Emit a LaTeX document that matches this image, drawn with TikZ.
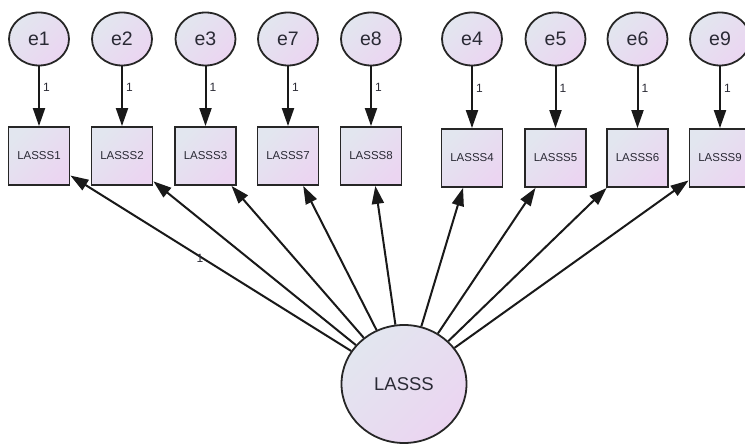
\documentclass[tikz,border=0pt]{standalone}
\usepackage{fontspec}
\setmainfont{Liberation Sans}
\usetikzlibrary{arrows.meta,shapes.geometric}
\definecolor{fillA}{HTML}{E2E6EF}
\definecolor{fillB}{HTML}{EBD5F1}
\definecolor{txt}{HTML}{2A2A35}
\tikzset{
  semfill/.style={top color=fillA, bottom color=fillB, shading angle=45, draw=black!85, line width=1.8pt},
  errnode/.style={ellipse, semfill, minimum width=60pt, minimum height=53pt, inner sep=0pt, font=\fontsize{19.5}{19.5}\selectfont, text=txt},
  obsnode/.style={rectangle, semfill, minimum width=61pt, minimum height=58pt, inner sep=0pt, font=\fontsize{11.5}{11.5}\selectfont, text=txt},
  latnode/.style={ellipse, semfill, minimum width=125pt, minimum height=118pt, inner sep=0pt, font=\fontsize{18.5}{18.5}\selectfont, text=txt},
  pathar/.style={line width=2pt, draw=black!90, -{Triangle[length=18pt,width=12pt]}},
  wlab/.style={font=\fontsize{12}{12}\selectfont, text=txt, inner sep=1pt}
}
\begin{document}
\begin{tikzpicture}[x=1pt,y=-1pt]
\useasboundingbox (0,0) rectangle (745,446);
% error terms and observed variables
\foreach \n/\lab/\x/\sy in {1/e1/39/156, 2/e2/122/156, 3/e3/205.5/156, 7/e7/288/156, 8/e8/371/156, 4/e4/472/158, 5/e5/555.5/158, 6/e6/637.5/158, 9/e9/720/158}{
  \node[errnode] (\lab) at (\x,39) {\lab};
  \node[obsnode] (o\n) at (\x,\sy) {LASSS\n};
  \draw[pathar] (\lab) -- node[wlab, pos=0.35, right=2pt] {1} (o\n);
}
\node[latnode] (L) at (404,384) {LASSS};
\foreach \n in {1,2,3,7,8,4,5,6,9}{
  \draw[pathar] (L) -- (o\n);
}
\node[wlab] (w1) at (200,258) {1};
\end{tikzpicture}
\end{document}
